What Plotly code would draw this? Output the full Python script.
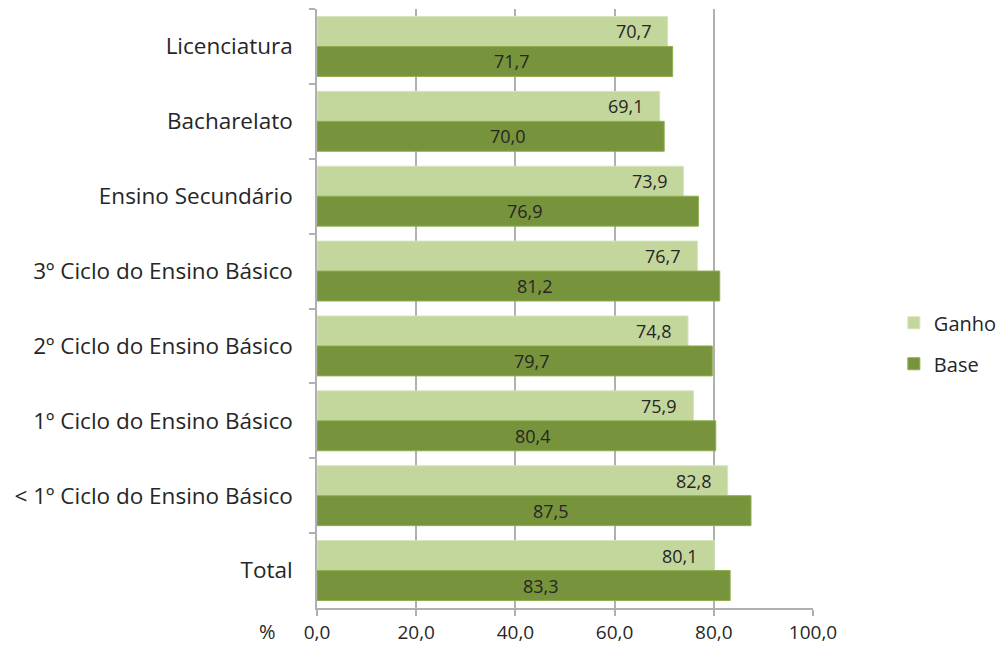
import plotly.graph_objects as go

categories = ["Licenciatura", "Bacharelato", "Ensino Secundário",
              "3º Ciclo do Ensino Básico", "2º Ciclo do Ensino Básico",
              "1º Ciclo do Ensino Básico", "< 1º Ciclo do Ensino Básico", "Total"]
ganho = [70.7, 69.1, 73.9, 76.7, 74.8, 75.9, 82.8, 80.1]
base = [71.7, 70.0, 76.9, 81.2, 79.7, 80.4, 87.5, 83.3]
x_ticks = [0, 20, 40, 60, 80, 100]

FONT = "Open Sans"
TXT = "#262626"
GRID = "#b0b0b0"


def fmt(v):
    return f"{v:.1f}".replace(".", ",")


fig = go.Figure()
fig.add_trace(go.Bar(
    y=categories, x=ganho, name="Ganho", orientation="h", legendgroup="g",
    marker=dict(color="#c3d69b", line=dict(color="#d7e4bd", width=1)),
))
fig.add_trace(go.Bar(
    y=categories, x=base, name="Base", orientation="h", legendgroup="b",
    marker=dict(color="#77933c", line=dict(color="#8fae4f", width=1)),
))

# data labels (Ganho: inside end, Base: near the middle)
for cat, g, b in zip(categories, ganho, base):
    fig.add_annotation(x=g, y=cat, text=fmt(g), showarrow=False,
                       xanchor="right", yanchor="middle", xshift=-14, yshift=15,
                       font=dict(family=FONT, size=18, color=TXT))
    fig.add_annotation(x=b / 2, y=cat, text=fmt(b), showarrow=False,
                       xanchor="center", yanchor="middle", xshift=17, yshift=-15,
                       font=dict(family=FONT, size=18, color=TXT))

fig.update_layout(
    width=1008, height=647,
    margin=dict(l=317, r=195, t=9, b=39, autoexpand=False),
    paper_bgcolor="white", plot_bgcolor="white",
    barmode="group", bargap=0.2, bargroupgap=0,
    separators=", ",
    font=dict(family=FONT, color=TXT, size=19),
    showlegend=True,
    legend=dict(x=1.163, y=0.442, xanchor="left", yanchor="middle",
                traceorder="grouped", tracegroupgap=12,
                font=dict(family=FONT, size=20, color=TXT),
                itemwidth=30, bgcolor="rgba(0,0,0,0)"),
)
fig.update_xaxes(
    range=[0, 100], tickvals=x_ticks, tickformat=".1f",
    showgrid=True, gridcolor=GRID, gridwidth=1.5,
    showline=True, linecolor=GRID, linewidth=1.5,
    ticks="outside", ticklen=6, tickcolor=GRID, tickwidth=1.5,
    tickfont=dict(family=FONT, size=19, color=TXT),
    zeroline=False, fixedrange=True, automargin=False,
)
fig.update_yaxes(
    categoryorder="array", categoryarray=categories, autorange="reversed",
    showline=True, linecolor=GRID, linewidth=1.5,
    ticks="outside", ticklen=6, tickcolor=GRID, tickwidth=1.5,
    tickson="boundaries", ticklabelstandoff=18,
    tickfont=dict(family=FONT, size=22.5, color=TXT),
    showgrid=False, fixedrange=True, automargin=False,
)
fig.add_annotation(text="%", xref="paper", yref="paper", x=-0.099, y=-0.04,
                   xanchor="center", yanchor="middle", showarrow=False,
                   font=dict(family=FONT, size=20, color=TXT))

fig.write_html("out.html")
